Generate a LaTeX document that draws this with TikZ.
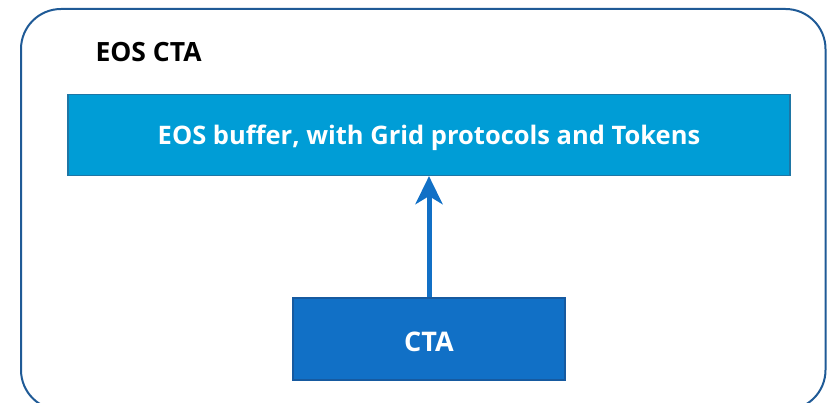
\documentclass[tikz,border=0pt]{standalone}
\usepackage{fontspec}
\setmainfont{Open Sans}
\usetikzlibrary{arrows.meta}

\definecolor{framecol}{RGB}{31,90,150}
\definecolor{buffcol}{RGB}{0,157,214}
\definecolor{buffline}{RGB}{30,118,165}
\definecolor{ctacol}{RGB}{17,112,198}
\definecolor{ctaline}{RGB}{22,90,160}

\tikzset{
  box/.style={draw, line width=1.2pt, minimum height=81pt, text=white,
    font=\bfseries\fontsize{25.5}{28}\selectfont},
  title/.style={font=\bfseries\fontsize{26.5}{30}\selectfont, anchor=west}
}

\begin{document}
\begin{tikzpicture}[x=1pt, y=-1pt]

\useasboundingbox (0,0) rectangle (827,403);

% outer frame, its bottom runs just past the page
\draw[framecol, line width=2pt, rounded corners=40pt] (21,9) rectangle (825.5,410);

\node[title] (eos) at (92,52) {EOS CTA};

\node[box, fill=buffcol, draw=buffline, minimum width=722pt] (buffer) at (429,135)
  {\raisebox{-10pt}[0pt][0pt]{EOS buffer, with Grid protocols and Tokens}};
\node[box, fill=ctacol, draw=ctaline, minimum width=272pt, minimum height=82pt,
  font=\bfseries\fontsize{27}{30}\selectfont] (cta) at (429,339)
  {\raisebox{-12pt}[0pt][0pt]{CTA}};

\draw[-{Triangle[length=28pt, width=27pt, inset=8pt]}, ctacol, line width=5pt]
  (cta.north) -- (buffer.south);

\end{tikzpicture}
\end{document}
